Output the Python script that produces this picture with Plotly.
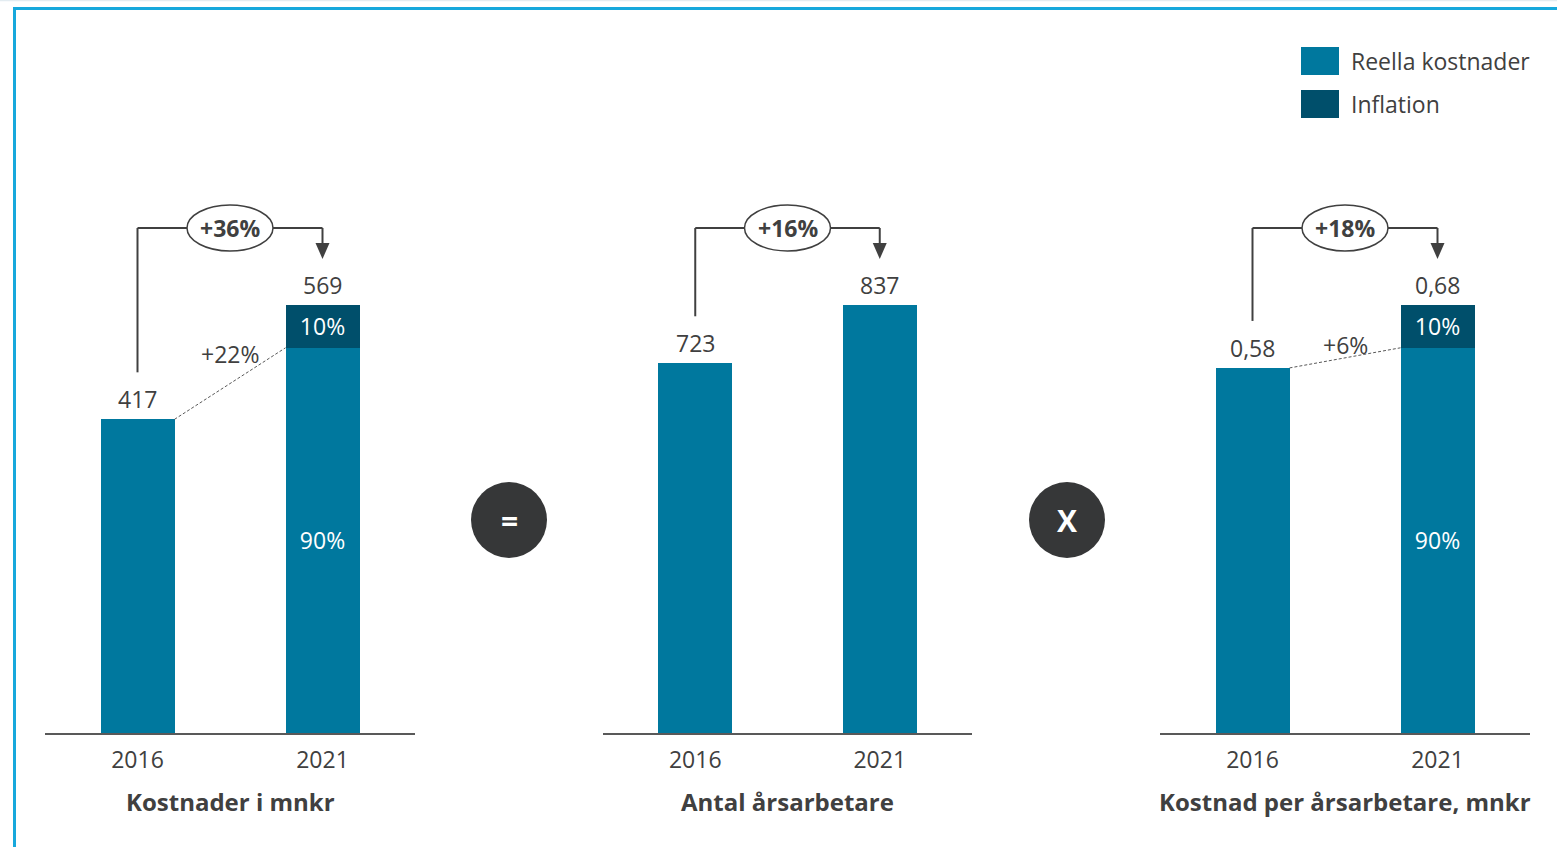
import plotly.graph_objects as go

W, H = 1557, 847

years = ["2016", "2021"]

# Kostnader i mnkr (2021 split into real cost and inflation)
cost_total = [417, 569]
cost_inflation_share = [0.0, 0.10]
cost_labels = ["417", "569"]

# Antal årsarbetare
staff = [723, 837]
staff_labels = ["723", "837"]

# Kostnad per årsarbetare, mnkr
per_staff_total = [0.58, 0.68]
per_staff_inflation_share = [0.0, 0.10]
per_staff_labels = ["0,58", "0,68"]

growth_total = ["+36%", "+16%", "+18%"]
growth_real = ["+22%", None, "+6%"]
panel_titles = ["Kostnader i mnkr", "Antal årsarbetare", "Kostnad per årsarbetare, mnkr"]
operators = ["=", "X"]

legend_names = ["Reella kostnader", "Inflation"]

# styling
REAL = "#00789E"
INFL = "#004F6B"
TXT = "#404040"
AXIS = "#595959"
FRAME = "#17A8DC"
FONT = "Open Sans"
FS = 23

# geometry (pixels)
BASE_PX = 733          # baseline of every panel
BAR_SCALE = 428        # pixel height of the tallest bar in a panel
BRACKET_PX = 228       # height of the growth bracket
panel_x = [(45, 415), (603, 972), (1160, 1530)]
real_label_shift = [-6, None, 3]


def px(x):
    return x / W


def py(y):
    return 1 - y / H


panels = [
    dict(total=cost_total, share=cost_inflation_share, labels=cost_labels),
    dict(total=staff, share=[0.0, 0.0], labels=staff_labels),
    dict(total=per_staff_total, share=per_staff_inflation_share, labels=per_staff_labels),
]

fig = go.Figure()
shapes = []
annotations = []

for i, p in enumerate(panels):
    n = i + 1
    xa = "x" if n == 1 else f"x{n}"
    ya = "y" if n == 1 else f"y{n}"
    vmax = max(p["total"])

    def dy(pixel_y, vmax=vmax):
        return (BASE_PX - pixel_y) / BAR_SCALE * vmax

    def doff(pixels, vmax=vmax):
        return pixels / BAR_SCALE * vmax

    real = [t * (1 - s) for t, s in zip(p["total"], p["share"])]
    infl = [t * s for t, s in zip(p["total"], p["share"])]
    has_split = any(s > 0 for s in p["share"])
    real_text = [f"{round((1 - s) * 100)}%" if s > 0 else "" for s in p["share"]]
    infl_text = [f"{round(s * 100)}%" if s > 0 else "" for s in p["share"]]

    fig.add_trace(go.Bar(
        x=years, y=real, width=0.4, marker=dict(color=REAL, line=dict(width=0)),
        text=real_text, textposition="inside", insidetextanchor="middle", textangle=0,
        textfont=dict(color="white", size=FS, family=FONT),
        xaxis=xa, yaxis=ya, showlegend=False, hoverinfo="skip", name=legend_names[0],
    ))
    if has_split:
        fig.add_trace(go.Bar(
            x=years, y=infl, width=0.4, marker=dict(color=INFL, line=dict(width=0)),
            text=infl_text, textposition="inside", insidetextanchor="middle", textangle=0,
            textfont=dict(color="white", size=FS, family=FONT),
            xaxis=xa, yaxis=ya, showlegend=False, hoverinfo="skip", name=legend_names[1],
        ))

    x0p, x1p = panel_x[i]
    fig.update_layout(**{
        ("xaxis" if n == 1 else f"xaxis{n}"): dict(
            domain=[px(x0p), px(x1p)], anchor=ya, type="category",
            showline=True, linecolor=AXIS, linewidth=2, showgrid=False, zeroline=False,
            ticks="", tickfont=dict(size=FS, color=TXT, family=FONT), ticklabelstandoff=5,
            fixedrange=True,
        ),
        ("yaxis" if n == 1 else f"yaxis{n}"): dict(
            domain=[1 - BASE_PX / H, 1], anchor=xa,
            range=[0, vmax * BASE_PX / BAR_SCALE], visible=False, fixedrange=True,
        ),
    })

    # value labels above bars
    for k, (yr, t, lab) in enumerate(zip(years, p["total"], p["labels"])):
        annotations.append(dict(
            x=k, y=t, xref=xa, yref=ya, text=lab, showarrow=False,
            xanchor="center", yanchor="middle",
            yshift=20, font=dict(size=FS, color=TXT, family=FONT),
        ))

    # growth bracket from first bar to second bar
    top = dy(BRACKET_PX)
    line = dict(color=TXT, width=2)
    shapes.append(dict(type="line", xref=xa, yref=ya, x0=0, x1=0,
                       y0=p["total"][0] + doff(47), y1=top, line=line))
    shapes.append(dict(type="line", xref=xa, yref=ya, x0=0, x1=1, y0=top, y1=top, line=line))
    shapes.append(dict(type="line", xref=xa, yref=ya, x0=1, x1=1, y0=top, y1=dy(246), line=line))
    shapes.append(dict(type="path", xref=xa, yref=ya, xsizemode="pixel", ysizemode="pixel",
                       xanchor=1, yanchor=dy(259), path="M -7,16 L 7,16 L 0,0 Z",
                       fillcolor=TXT, line=dict(width=0)))
    shapes.append(dict(type="circle", xref=xa, yref=ya, xsizemode="pixel", ysizemode="pixel",
                       xanchor=0.5, yanchor=top, x0=-43, x1=43, y0=-23, y1=23,
                       fillcolor="white", line=dict(color=TXT, width=1.5)))
    annotations.append(dict(
        x=0.5, y=top, xref=xa, yref=ya, text=f"<b>{growth_total[i]}</b>", showarrow=False,
        xanchor="center", font=dict(size=FS, color=TXT, family=FONT),
    ))

    # real growth (excluding inflation)
    if growth_real[i]:
        shapes.append(dict(type="line", xref=xa, yref=ya, x0=0.2, x1=0.8,
                           y0=real[0] + infl[0], y1=real[1],
                           line=dict(color=AXIS, width=1, dash="3px,2px")))
        annotations.append(dict(
            x=0.5, y=real[1], xref=xa, yref=ya, text=growth_real[i], showarrow=False,
            xanchor="center", yanchor="middle", yshift=real_label_shift[i],
            font=dict(size=FS, color=TXT, family=FONT),
        ))

    # panel title
    annotations.append(dict(
        x=px((x0p + x1p) / 2), y=py(801), xref="paper", yref="paper",
        text=f"<b>{panel_titles[i]}</b>", showarrow=False,
        xanchor="center", yanchor="middle",
        font=dict(size=24, color=TXT, family=FONT),
    ))

# operator circles between the panels
for cx, op in zip([509, 1067], operators):
    shapes.append(dict(type="circle", xref="paper", yref="paper",
                       x0=px(cx - 38), x1=px(cx + 38), y0=py(520 + 38), y1=py(520 - 38),
                       fillcolor="#363738", line=dict(width=0)))
    annotations.append(dict(x=px(cx), y=py(520), xref="paper", yref="paper",
                            text=f"<b>{op}</b>", showarrow=False,
                            xanchor="center", yanchor="middle",
                            font=dict(size=30, color="white", family=FONT)))

# legend
for j, (name, col) in enumerate(zip(legend_names, [REAL, INFL])):
    yc = 61 + j * 43
    shapes.append(dict(type="rect", xref="paper", yref="paper",
                       x0=px(1301), x1=px(1339), y0=py(yc + 14), y1=py(yc - 14),
                       fillcolor=col, line=dict(width=0)))
    annotations.append(dict(x=px(1349), y=py(yc), xref="paper", yref="paper",
                            text=name, showarrow=False, xanchor="left", yanchor="middle",
                            font=dict(size=FS, color=TXT, family=FONT)))

# frame
shapes.append(dict(type="line", xref="paper", yref="paper", x0=0, x1=1, y0=py(0.5), y1=py(0.5),
                   line=dict(color="#E3ECF1", width=1.5)))
shapes.append(dict(type="line", xref="paper", yref="paper", x0=px(13), x1=1, y0=py(8.5), y1=py(8.5),
                   line=dict(color=FRAME, width=3)))
shapes.append(dict(type="line", xref="paper", yref="paper", x0=px(14.5), x1=px(14.5), y0=py(7), y1=0,
                   line=dict(color=FRAME, width=3)))

fig.update_layout(
    width=W, height=H, margin=dict(l=0, r=0, t=0, b=0),
    paper_bgcolor="white", plot_bgcolor="white",
    barmode="stack", showlegend=False,
    font=dict(family=FONT, color=TXT),
    shapes=shapes, annotations=annotations,
)

fig.write_html("out.html", config={"displayModeBar": False})
